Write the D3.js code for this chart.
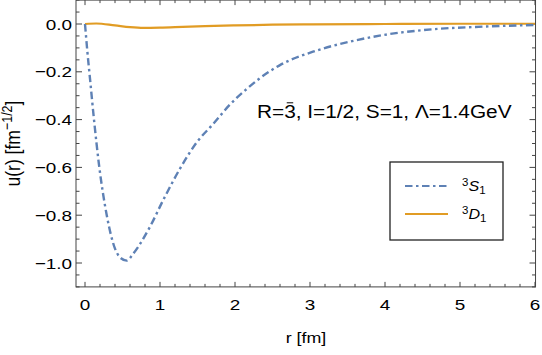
<!DOCTYPE html>
<html><head><meta charset="utf-8">
<script src="https://cdn.jsdelivr.net/npm/d3@7"></script>
<style>body{margin:0;background:#fff}svg{display:block;font-family:"Liberation Sans",Arial,sans-serif}</style>
</head><body><div id="c"></div>
<script>
const rS = [0, 0.03, 0.067, 0.12, 0.187, 0.29, 0.40, 0.48, 0.555, 0.645, 0.867, 1.044, 1.267, 1.49, 1.71, 1.93, 2.156, 2.31, 2.6, 3.04, 3.53, 3.98, 4.64, 5.31, 6.0];
const uS = [0, -0.11, -0.23, -0.40, -0.59, -0.80, -0.94, -0.98, -0.99, -0.96, -0.848, -0.736, -0.605, -0.495, -0.418, -0.338, -0.272, -0.232, -0.172, -0.116, -0.074, -0.046, -0.022, -0.011, -0.004];
const rD = [0, 0.15, 0.4, 0.6, 0.78, 1.0, 1.3, 1.6, 2.0, 2.5, 3.0, 4.0, 5.0, 6.0];
const uD = [0, 0.002, -0.006, -0.013, -0.016, -0.015, -0.012, -0.009, -0.006, -0.003, -0.0015, 0, 0.001, 0.001];
const xTicks = [0, 1, 2, 3, 4, 5, 6];
const yTicks = [0, -0.2, -0.4, -0.6, -0.8, -1.0];

const W = 542, H = 355, SX = 1.22;
const svg = d3.select("#c").append("svg").attr("width", W).attr("height", H);
const x = d3.scaleLinear().domain([0, 6]).range([85, 535]);
const y = d3.scaleLinear().domain([0, -1]).range([24, 263]);
const x0 = x(-0.12), x1 = x(6.007), yT = y(0.1), yB = y(-1.1);
const fc = "#444";

// frame
svg.append("rect").attr("x", x0).attr("y", yT).attr("width", x1 - x0).attr("height", yB - yT)
  .attr("fill", "none").attr("stroke", fc).attr("stroke-width", 1);

// ticks
const xMinor = d3.range(0, 6.001, 0.2).map(v => +v.toFixed(2));
const yMinor = d3.range(0.1, -1.1001, -0.05).map(v => +v.toFixed(2));
const isMajX = v => Math.abs(v - Math.round(v)) < 1e-6;
const isMajY = v => Math.abs(v * 5 - Math.round(v * 5)) < 1e-6;
const tg = svg.append("g").attr("stroke", fc).attr("stroke-width", 1);
xMinor.forEach(v => {
  const L = isMajX(v) ? 5 : 3;
  tg.append("line").attr("x1", x(v)).attr("x2", x(v)).attr("y1", yB).attr("y2", yB - L);
  tg.append("line").attr("x1", x(v)).attr("x2", x(v)).attr("y1", yT).attr("y2", yT + L);
});
yMinor.forEach(v => {
  const L = isMajY(v) ? 6 : 3.5;
  tg.append("line").attr("y1", y(v)).attr("y2", y(v)).attr("x1", x0).attr("x2", x0 + L);
  tg.append("line").attr("y1", y(v)).attr("y2", y(v)).attr("x1", x1).attr("x2", x1 - L);
});

// tick labels (reference text is horizontally widened)
const fmtY = v => (v < 0 ? "\u2212" : "") + Math.abs(v).toFixed(1);
svg.append("g").selectAll("text").data(yTicks).join("text")
  .attr("transform", d => `translate(72,${y(d)}) scale(${SX},1)`).attr("dy", "0.36em").attr("text-anchor", "end")
  .attr("font-size", 15.5).text(fmtY);
svg.append("g").selectAll("text").data(xTicks).join("text")
  .attr("transform", d => `translate(${x(d)},310) scale(${SX},1)`).attr("text-anchor", "middle")
  .attr("font-size", 15.5).text(d => d);

// axis labels
svg.append("text").attr("transform", `translate(306,343) scale(1.15,1)`).attr("text-anchor", "middle")
  .attr("font-size", 15.5).text("r [fm]");
const yl = svg.append("text").attr("transform", `translate(20,${(yT + yB) / 2}) rotate(-90) scale(1,1.2)`)
  .attr("text-anchor", "middle").attr("font-size", 17.5);
yl.append("tspan").text("u(r) [fm");
yl.append("tspan").attr("dy", -7).attr("font-size", 12.5).text("\u22121/2");
yl.append("tspan").attr("dy", 7).text("]");

// curves
const line = d3.line().x(d => x(d[0])).y(d => y(d[1])).curve(d3.curveMonotoneX);
const dS = rS.map((r, i) => [r, uS[i]]);
const dD = rD.map((r, i) => [r, uD[i]]);
svg.append("path").datum(dD).attr("d", line).attr("fill", "none").attr("stroke", "#E19C24").attr("stroke-width", 2.2);
svg.append("path").datum(dS).attr("d", line).attr("fill", "none").attr("stroke", "#5E81B5").attr("stroke-width", 2.4)
  .attr("stroke-dasharray", "7.5,3.5,2.5,3.5");

// annotation
const ag = svg.append("g").attr("transform", `translate(257,118) scale(1.19,1)`);
const ann = ag.append("text").attr("font-size", 17.5);
ann.append("tspan").text("R=");
ann.append("tspan").text("3");
ann.append("tspan").text(", I=1/2, S=1, \u039B=1.4GeV");
{
  const pre = ag.append("text").attr("font-size", 17.5).attr("visibility", "hidden").text("R=");
  const w0 = pre.node().getComputedTextLength();
  pre.remove();
  const w3 = 17.5 * 0.556;
  ag.append("line").attr("x1", w0 + w3 * 0.22).attr("x2", w0 + w3 * 0.78)
    .attr("y1", -15.2).attr("y2", -15.2).attr("stroke", "#000").attr("stroke-width", 1);
}

// legend
svg.append("rect").attr("x", 390).attr("y", 162).attr("width", 113).attr("height", 78)
  .attr("fill", "#fff").attr("stroke", "#222").attr("stroke-width", 1.3);
const leg = [{c: "#5E81B5", dash: "7.5,3.5,2.5,3.5", L: "S", yy: 186}, {c: "#E19C24", dash: null, L: "D", yy: 214}];
leg.forEach(l => {
  svg.append("line").attr("x1", 405).attr("x2", 448).attr("y1", l.yy).attr("y2", l.yy)
    .attr("stroke", l.c).attr("stroke-width", 2.2).attr("stroke-dasharray", l.dash);
  const t = svg.append("text").attr("transform", `translate(462,${l.yy + 5}) scale(1.15,1)`).attr("font-size", 14);
  t.append("tspan").attr("font-size", 10).attr("dy", -5).text("3");
  t.append("tspan").attr("dy", 5).attr("font-style", "italic").text(l.L);
  t.append("tspan").attr("font-size", 10).attr("dy", 3).text("1");
});
</script></body></html>
